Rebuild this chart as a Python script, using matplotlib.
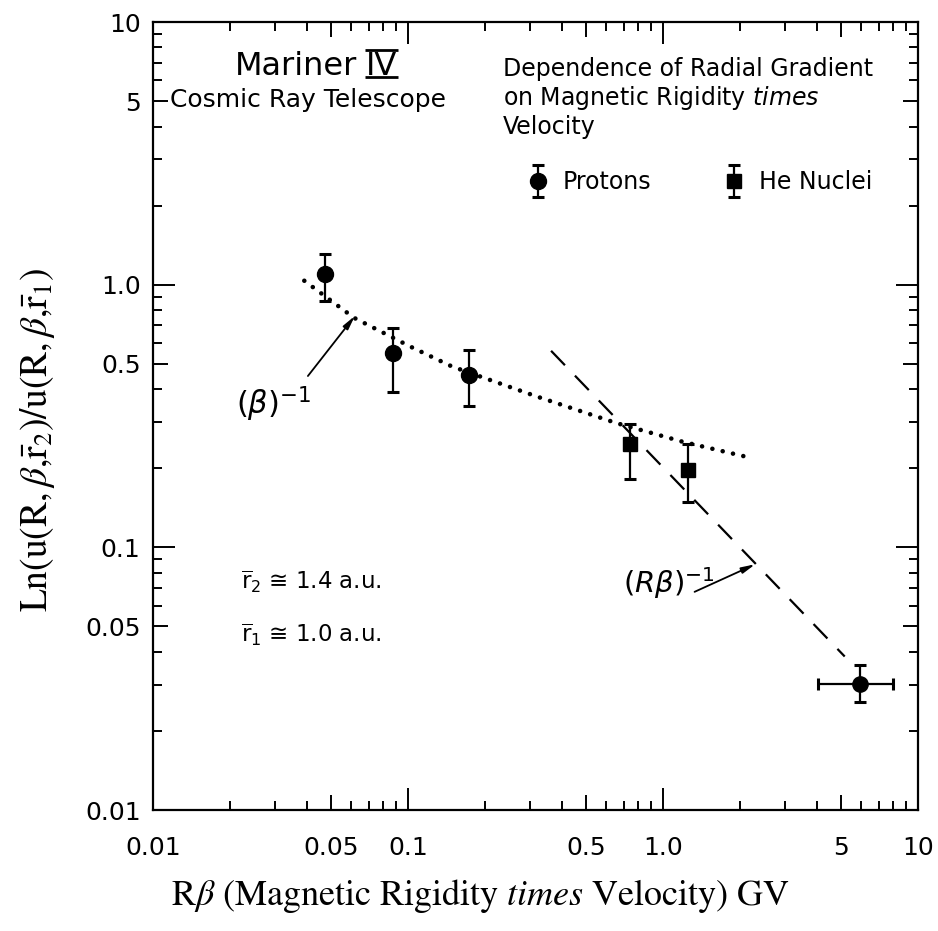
import numpy as np
import matplotlib
matplotlib.use('Agg')
import matplotlib.pyplot as plt
from matplotlib.lines import Line2D
from matplotlib.container import ErrorbarContainer
from matplotlib.legend_handler import HandlerErrorbar

# ---------------- data ----------------
proton_x = [0.0473, 0.0876, 0.1729]
proton_y = [1.098, 0.547, 0.453]
proton_lo = [0.866, 0.390, 0.345]
proton_hi = [1.308, 0.684, 0.565]

proton_hi_x = [5.92]
proton_hi_y = [0.0302]
proton_hi_ylo = [0.0257]
proton_hi_yhi = [0.0357]
proton_hi_xlo = [4.04]
proton_hi_xhi = [8.0]

he_x = [0.742, 1.25]
he_y = [0.247, 0.197]
he_lo = [0.182, 0.149]
he_hi = [0.295, 0.247]

beta_curve_x = [0.0392, 0.0614, 0.1018, 0.1488, 0.3177, 0.658, 1.200, 2.088]
beta_curve_y = [1.035, 0.748, 0.582, 0.488, 0.376, 0.297, 0.252, 0.222]

rbeta_line_x = [0.364, 5.16]
rbeta_line_y = [0.560, 0.0384]

major_ticks = [0.01, 0.05, 0.1, 0.5, 1.0, 5, 10]
x_tick_labels = ['0.01', '0.05', '0.1', '0.5', '1.0', '5', '10']
y_tick_labels = ['0.01', '0.05', '0.1', '0.5', '1.0', '5', '10']
minor_mult = [2, 3, 4, 6, 7, 8, 9]
decades = [0.01, 0.1, 1.0]

plt.rcParams['font.family'] = ['DejaVu Sans']
plt.rcParams['mathtext.fontset'] = 'dejavusans'

fig = plt.figure(figsize=(9.38, 9.31), dpi=100)
ax = fig.add_axes([153 / 938, 121 / 931, 765 / 938, 788 / 931])
ax.set_xscale('log')
ax.set_yscale('log')
ax.set_xlim(0.01, 10)
ax.set_ylim(0.01, 10)

minor_locs = [m * d for d in decades for m in minor_mult]
ax.set_xticks(major_ticks, labels=x_tick_labels)
ax.set_yticks(major_ticks, labels=y_tick_labels)
ax.set_xticks(minor_locs, minor=True)
ax.set_yticks(minor_locs, minor=True)
ax.xaxis.set_minor_formatter(plt.NullFormatter())
ax.yaxis.set_minor_formatter(plt.NullFormatter())
ax.tick_params(which='both', direction='in', top=True, right=True,
               width=1.4, labelsize=18)
ax.tick_params(axis='y', which='both', pad=9)
ax.tick_params(axis='x', which='both', pad=18.5)
ax.tick_params(which='major', length=11)
ax.tick_params(which='minor', length=6.5)
for s in ax.spines.values():
    s.set_linewidth(1.6)

# ---------------- data marks ----------------
eb_kw = dict(color='k', elinewidth=1.6, capsize=4.5, capthick=2.2)
py = np.array(proton_y)
cont_p = ax.errorbar(proton_x, py,
                     yerr=[py - np.array(proton_lo), np.array(proton_hi) - py],
                     fmt='o', ms=11.5, **eb_kw)
ph = np.array(proton_hi_y)
phx = np.array(proton_hi_x)
ax.errorbar(phx, ph,
            yerr=[ph - np.array(proton_hi_ylo), np.array(proton_hi_yhi) - ph],
            xerr=[phx - np.array(proton_hi_xlo), np.array(proton_hi_xhi) - phx],
            fmt='o', ms=11, **eb_kw)
hy = np.array(he_y)
cont_he = ax.errorbar(he_x, hy,
                      yerr=[hy - np.array(he_lo), np.array(he_hi) - hy],
                      fmt='s', ms=10.5, **eb_kw)

ax.plot(beta_curve_x, beta_curve_y, color='k', lw=3.3,
        linestyle=(0, (0.01, 2.3)), dash_capstyle='round')
ax.plot(rbeta_line_x, rbeta_line_y, color='k', lw=1.6,
        linestyle=(0, (9, 6.5)))

# ---------------- annotations ----------------
t_mar = ax.text(0.2667, 0.9327, "Mariner", transform=ax.transAxes,
                ha='right', va='baseline', fontsize=23)
t_iv = ax.text(0.2784, 0.9327, "IV", transform=ax.transAxes,
               ha='left', va='baseline', fontsize=23)
ax.text(0.202, 0.901, "Cosmic Ray Telescope", transform=ax.transAxes,
        ha='center', va='center', fontsize=18)
ax.text(0.4575, 0.956,
        "Dependence of Radial Gradient\non Magnetic Rigidity $\\mathit{times}$\nVelocity",
        transform=ax.transAxes, ha='left', va='top', fontsize=17, linespacing=1.15)

ax.legend(handles=[cont_p, cont_he], labels=['Protons', 'He Nuclei'], ncol=2,
          frameon=False, loc='center left', bbox_to_anchor=(0.4876, 0.797),
          fontsize=17, handlelength=1.0, handletextpad=0.56, columnspacing=3.0,
          borderaxespad=0, borderpad=0,
          handler_map={ErrorbarContainer: HandlerErrorbar(yerr_size=0.68)})

ax.text(0.115, 0.29, r"$\overline{\mathrm{r}}_2$ ≅ 1.4 a.u.", transform=ax.transAxes,
        ha='left', va='center', fontsize=16.5)
ax.text(0.115, 0.222, r"$\overline{\mathrm{r}}_1$ ≅ 1.0 a.u.", transform=ax.transAxes,
        ha='left', va='center', fontsize=16.5)

arrow_kw = dict(arrowstyle='-|>,head_length=0.8,head_width=0.18', lw=1.3,
                color='k', shrinkA=0, shrinkB=0)
ax.text(0.0212, 0.351, r"$(\beta)^{-1}$", ha='left', va='center', fontsize=22)
ax.annotate('', xy=(0.0619, 0.76), xytext=(0.0405, 0.449), arrowprops=arrow_kw)
ax.text(0.6966, 0.0731, r"$(R\beta)^{-1}$", ha='left', va='center', fontsize=21)
ax.annotate('', xy=(2.30, 0.0862), xytext=(1.33, 0.0677), arrowprops=arrow_kw)

ax.set_ylabel(r"$\mathrm{Ln(u(R,}\beta\mathrm{,}\bar{\mathrm{r}}_2\mathrm{)/u(R,}\beta\mathrm{,}\bar{\mathrm{r}}_1\mathrm{)}$",
              fontsize=27, math_fontfamily='stix')
ax.yaxis.set_label_coords(-0.1516, 0.47)
ax.yaxis.label.set_va('center')
ax.set_xlabel(r"$\mathrm{R}\beta\ \mathrm{(Magnetic\ Rigidity}\ \mathit{times}\ \mathrm{Velocity)\ GV}$",
              fontsize=26, math_fontfamily='stix')
ax.xaxis.set_label_coords(0.4275, -0.109)
ax.xaxis.label.set_va('center')

# ---------------- finishing touches that need a renderer ----------------
fig.canvas.draw()
for axis in (ax.xaxis, ax.yaxis):
    for t in axis.get_major_ticks():
        loc = t.get_loc()
        if loc is not None and abs(np.log10(loc) - round(np.log10(loc))) < 1e-6:
            t.tick1line.set_markersize(16)
            t.tick2line.set_markersize(16)

# over- and under-bars of the Roman numeral IV
renderer = fig.canvas.get_renderer()
bb = t_iv.get_window_extent(renderer)
inv = ax.transAxes.inverted()
base_px = ax.transAxes.transform((0, 0.9327))[1]
cap_px = 0.729 * 23 * fig.dpi / 72.0
for ypx in (base_px - 1.5, base_px + cap_px + 1.5):
    (x0, y0) = inv.transform((bb.x0 - 1, ypx))
    (x1, _) = inv.transform((bb.x1 + 1, ypx))
    ax.add_line(Line2D([x0, x1], [y0, y0], transform=ax.transAxes, color='k',
                       lw=2.0, solid_capstyle='butt', clip_on=False))

fig.savefig('out.png', dpi=100)
